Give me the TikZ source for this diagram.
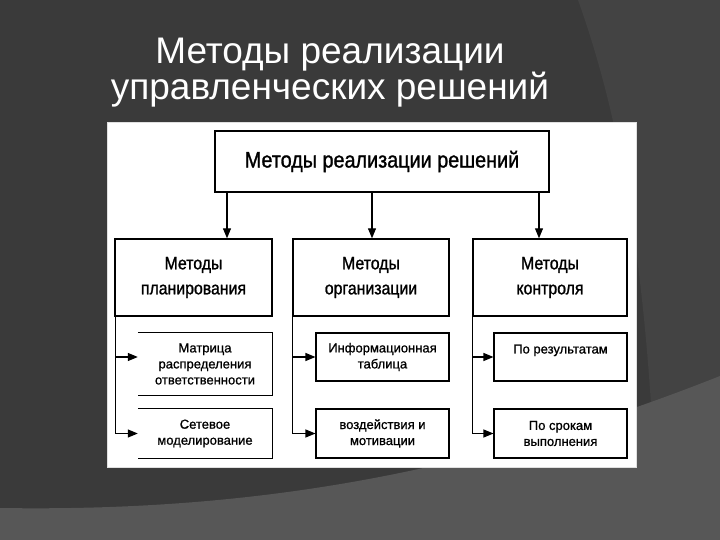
\documentclass[tikz,border=0pt]{standalone}
\usepackage{fontspec}
\setmainfont{Liberation Sans}
\newfontfamily\narrowf[FakeStretch=0.88,FakeBold=1.2]{Liberation Sans}
\newfontfamily\leaff[FakeBold=0.9]{Liberation Sans}
\usetikzlibrary{arrows.meta,calc}
\definecolor{bgdark}{HTML}{3A3A3A}
\definecolor{bgmid}{HTML}{434343}
\definecolor{bglight}{HTML}{575757}
\begin{document}
\begin{tikzpicture}[x=1pt,y=-1pt,
  mainbox/.style={draw=black,line width=1.6pt,fill=white,inner sep=0pt,minimum width=334pt,minimum height=61pt,font=\narrowf\fontsize{22.5}{26}\selectfont},
  groupbox/.style={draw=black,line width=1.4pt,inner sep=0pt,minimum height=77pt,align=center,font=\narrowf\fontsize{18}{25}\selectfont},
  leafbox/.style={draw=black,line width=1.1pt,inner sep=0pt,minimum width=133pt,align=center,font=\leaff\fontsize{13}{16}\selectfont},
  openbox/.style={inner sep=0pt,minimum width=134pt,align=center,font=\leaff\fontsize{13}{16}\selectfont},
  openedge/.style={line width=1.1pt},
  conn/.style={line width=1.1pt,-{Triangle[length=10pt,width=8pt]}},
  titletext/.style={text=white,font=\fontsize{37}{40}\selectfont,anchor=base,inner sep=0pt}
]
\useasboundingbox (0,0) rectangle (720,540);
% background
\fill[bgdark] (0,0) rectangle (720,540);
\fill[bgmid] (578,0) .. controls (612,95) and (640,220) .. (652,420) -- (720,420) -- (720,0) -- cycle;
\fill[bglight] (0,508) .. controls (250,512) and (470,475) .. (720,376) -- (720,540) -- (0,540) -- cycle;
% title
\node[titletext] (t1) at (330,64) {Методы реализации};
\node[titletext] (t2) at (330,100) {управленческих решений};
% panel
\fill[white,draw=black!12,line width=1pt] (107,123) rectangle (636,467);
% top box
\node[mainbox] (top) at (382,161.5) {Методы реализации решений};
% level 2
\node[groupbox,minimum width=157pt] (p1) at (193.5,277.5) {Методы\\планирования};
\node[groupbox,minimum width=156pt] (p2) at (371,277.5) {Методы\\организации};
\node[groupbox,minimum width=154pt] (p3) at (550,277.5) {Методы\\контроля};
% arrows from top
\coordinate (c1) at (227,0);
\coordinate (c2) at (372,0);
\coordinate (c3) at (539,0);
\draw[conn] (c1 |- top.south) -- (c1 |- p1.north);
\draw[conn] (c2 |- top.south) -- (c2 |- p2.north);
\draw[conn] (c3 |- top.south) -- (c3 |- p3.north);
% level 3, column 1 (boxes open on the left)
\node[openbox,minimum height=62pt] (L1a) at (205,364) {Матрица\\распределения\\ответственности};
\node[openbox,minimum height=49pt] (L1b) at (205,433.5) {Сетевое\\моделирование};
\draw[openedge] (L1a.north west) -- (L1a.north east) -- (L1a.south east) -- (L1a.south west);
\draw[openedge] (L1b.north west) -- (L1b.north east) -- (L1b.south east) -- (L1b.south west);
% level 3, column 2
\node[leafbox,minimum height=48pt] (L2a) at (382.5,357) {Информационная\\таблица};
\node[leafbox,minimum height=49pt] (L2b) at (382.5,433.5) {воздействия и\\мотивации};
% level 3, column 3
\node[leafbox,minimum height=48pt] (L3a) at (560.5,357) {По результатам\\\mbox{}};
\node[leafbox,minimum height=49pt] (L3b) at (560.5,433.5) {По срокам\\выполнения};
% connectors
\draw[conn] ($(p1.south west)+(1,0)$) |- ($(L1a.west)+(0,-7)$);
\draw[conn] ($(p1.south west)+(1,0)$) |- (L1b.west);
\draw[conn] (p2.south west) |- (L2a.west);
\draw[conn] (p2.south west) |- (L2b.west);
\draw[conn] (p3.south west) |- (L3a.west);
\draw[conn] (p3.south west) |- (L3b.west);
\end{tikzpicture}
\end{document}
